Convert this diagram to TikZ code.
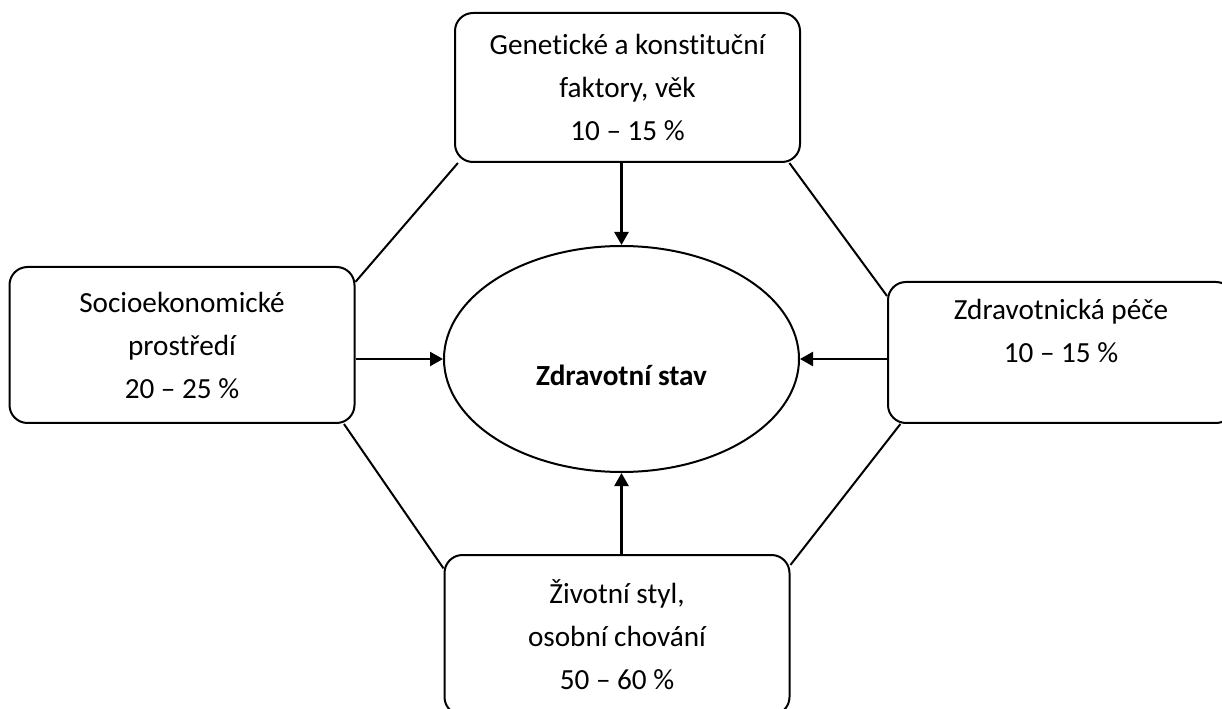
\documentclass[tikz,border=0pt]{standalone}
\usepackage{fontspec}
\setmainfont[Ligatures={TeX,NoCommon}]{Carlito}
\usetikzlibrary{shapes.geometric,arrows.meta}

\begin{document}
\begin{tikzpicture}[x=0.5pt,y=0.5pt,
                      txt/.style={font=\fontsize{14.6}{21.5}\selectfont},
                      box/.style={txt,draw,line width=1pt,rounded corners=9pt,align=center,inner sep=0pt,minimum width=172.5pt},
                      arr/.style={line width=1.2pt,-{Triangle[length=6.5pt,width=7pt]}}]
                      \useasboundingbox (0,0) rectangle (1222,708);
                      \clip (0,0) rectangle (1222,708);

                      \node[box,minimum height=74.5pt] (gen) at (627.5,620.5) {Genetické a konstituční\\faktory, věk\\10 – 15 \%};
                      \node[box,minimum height=78pt] (soc) at (182,363) {Socioekonomické\\prostředí\\20 – 25 \%};
                      \node[box,minimum height=70.5pt,minimum width=173pt] (pece) at (1061,355.5) {Zdravotnická péče\\10 – 15 \%\\\mbox{}};
                      \node[box,minimum height=80pt] (styl) at (617,73) {Životní styl,\\osobní chování\\50 – 60 \%};

                      \node[ellipse,draw,line width=1pt,inner sep=0pt,minimum width=177.5pt,minimum height=113pt,
                            label={[txt,font=\fontsize{14.6}{21.5}\selectfont\bfseries,yshift=-8pt]center:Zdravotní stav}] (stav) at (621.5,349) {};

                      \draw[arr] (stav.north |- gen.south) -- (stav.north);
                      \draw[arr] (stav.south |- styl.north) -- (stav.south);
                      \draw[arr] (stav.west -| soc.east) -- (stav.west);
                      \draw[arr] (stav.east -| pece.west) -- (stav.east);

                      \draw[line width=1pt] (gen.204) -- (soc.20);
                      \draw[line width=1pt] (gen.335) -- (pece.162);
                      \draw[line width=1pt] (soc.334) -- (styl.159);
                      \draw[line width=1pt] (pece.204) -- (styl.22);
                \end{tikzpicture}
\end{document}
